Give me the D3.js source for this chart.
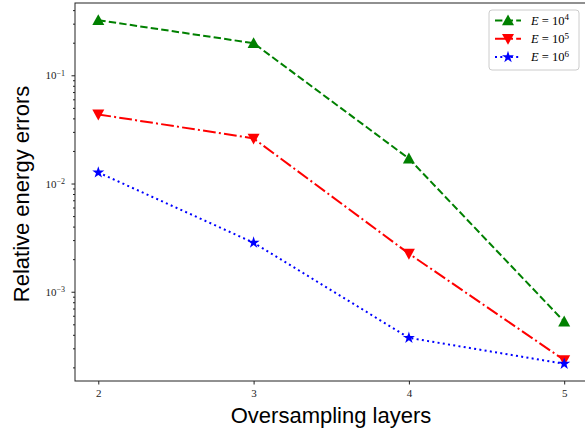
<!DOCTYPE html>
<html lang="en">
<head>
  <meta charset="UTF-8" />
  <title>Relative energy errors</title>
  <style>
    body { margin: 0; background: #fff; }
    svg { display: block; }
    .tick text { font-family: "Liberation Serif", "DejaVu Serif", serif; font-size: 11px; fill: #222; }
    .lbl { font-family: "Liberation Sans", Arial, sans-serif; font-size: 22px; fill: #000; }
    .leg { font-family: "Liberation Serif", "DejaVu Serif", serif; font-size: 12.5px; fill: #000; }
  </style>
</head>
<body>
  <div id="chart"></div>

  <script src="https://d3js.org/d3.v7.min.js"></script>
  <script>
    // oversampling layers
    const layers = [2, 3, 4, 5];
    // relative energy errors per E
    const errE4 = [0.323, 0.198, 0.0170, 0.00053];
    const errE5 = [0.0435, 0.0261, 0.00225, 0.000234];
    const errE6 = [0.01265, 0.00284, 0.000375, 0.000216];
    const seriesExp = [4, 5, 6];
    const yTickExp = [-3, -2, -1];

    const W = 585, H = 438;
    const padL = 75, padT = 3, padB = 381;

    const x = d3.scaleLinear().domain([1.85, 5.15]).range([padL, padL + 3.3 * 155.3]);
    const y = d3.scaleLog().domain([1.497e-4, 0.4656]).range([padB, padT]);

    const series = [
      { data: errE4, exp: seriesExp[0], color: "green", dash: "7.4,3.2", marker: "up" },
      { data: errE5, exp: seriesExp[1], color: "red", dash: "12.8,3.2,2,3.2", marker: "down" },
      { data: errE6, exp: seriesExp[2], color: "blue", dash: "2,3.3", marker: "star" }
    ];

    const svg = d3.select("#chart").append("svg").attr("width", W).attr("height", H);

    // axes
    const xAxis = d3.axisBottom(x).tickValues(layers).tickFormat(d3.format("d"))
      .tickSize(3.5).tickPadding(5);
    const gx = svg.append("g").attr("transform", `translate(0,${padB})`).call(xAxis);
    gx.select(".domain").remove();

    const minor = [];
    for (let e = -4; e <= -1; e++) {
      for (let m = 2; m <= 9; m++) {
        const v = m * Math.pow(10, e);
        if (v >= y.domain()[0] && v <= y.domain()[1]) minor.push(v);
      }
    }
    const gyMinor = svg.append("g").attr("transform", `translate(${padL},0)`)
      .call(d3.axisLeft(y).tickValues(minor).tickSize(2).tickFormat(""));
    gyMinor.select(".domain").remove();

    const gy = svg.append("g").attr("transform", `translate(${padL},0)`)
      .call(d3.axisLeft(y).tickValues(yTickExp.map(e => Math.pow(10, e))).tickSize(3.5).tickPadding(4).tickFormat(""));
    gy.select(".domain").remove();
    gy.selectAll(".tick").each(function (d) {
      const t = d3.select(this).append("text").attr("x", -10).attr("dy", "0.32em").attr("text-anchor", "end");
      t.append("tspan").text("10");
      t.append("tspan").attr("dy", "-0.45em").attr("font-size", "8px").text("\u2212" + Math.round(-Math.log10(d)));
    });
    svg.selectAll(".tick line").attr("stroke", "#222");

    // frame
    svg.append("rect").attr("x", padL).attr("y", padT)
      .attr("width", x.range()[1] - padL).attr("height", padB - padT)
      .attr("fill", "none").attr("stroke", "#222").attr("stroke-width", 1);

    const line = d3.line().x((d, i) => x(layers[i])).y(d => y(d));

    function marker(g, type, cx, cy, color) {
      if (type === "star") {
        g.append("path").attr("d", d3.symbol(d3.symbolStar, 45)())
          .attr("transform", `translate(${cx},${cy})`).attr("fill", color);
      } else {
        const r = 6;
        const s = type === "up" ? 1 : -1;
        const pts = [[cx, cy - s * r], [cx - r, cy + s * r * 0.8], [cx + r, cy + s * r * 0.8]];
        g.append("path").attr("d", "M" + pts.join("L") + "Z").attr("fill", color);
      }
    }

    const plot = svg.append("g");
    series.forEach(s => {
      plot.append("path").datum(s.data).attr("d", line)
        .attr("fill", "none").attr("stroke", s.color).attr("stroke-width", 2)
        .attr("stroke-dasharray", s.dash);
      s.data.forEach((v, i) => marker(plot, s.marker, x(layers[i]), y(v), s.color));
    });

    // labels
    svg.append("text").attr("class", "lbl").attr("x", 331).attr("y", 423)
      .attr("text-anchor", "middle").text("Oversampling layers");
    svg.append("text").attr("class", "lbl")
      .attr("transform", `translate(29,194) rotate(-90)`)
      .attr("text-anchor", "middle").text("Relative energy errors");

    // legend
    const lg = svg.append("g");
    lg.append("rect").attr("x", 489).attr("y", 10).attr("width", 90).attr("height", 60)
      .attr("rx", 3).attr("fill", "#fff").attr("stroke", "#ccc");
    series.forEach((s, i) => {
      const ly = 20.5 + i * 18.3;
      lg.append("line").attr("x1", 495).attr("x2", 521).attr("y1", ly).attr("y2", ly)
        .attr("stroke", s.color).attr("stroke-width", 2).attr("stroke-dasharray", s.dash);
      marker(lg, s.marker, 508, ly, s.color);
      const t = lg.append("text").attr("class", "leg").attr("x", 531).attr("y", ly + 4);
      t.append("tspan").attr("font-style", "italic").text("E");
      t.append("tspan").text(" = 10");
      t.append("tspan").attr("dy", "-0.45em").attr("font-size", "9px").text(s.exp);
    });
  </script>
</body>
</html>
